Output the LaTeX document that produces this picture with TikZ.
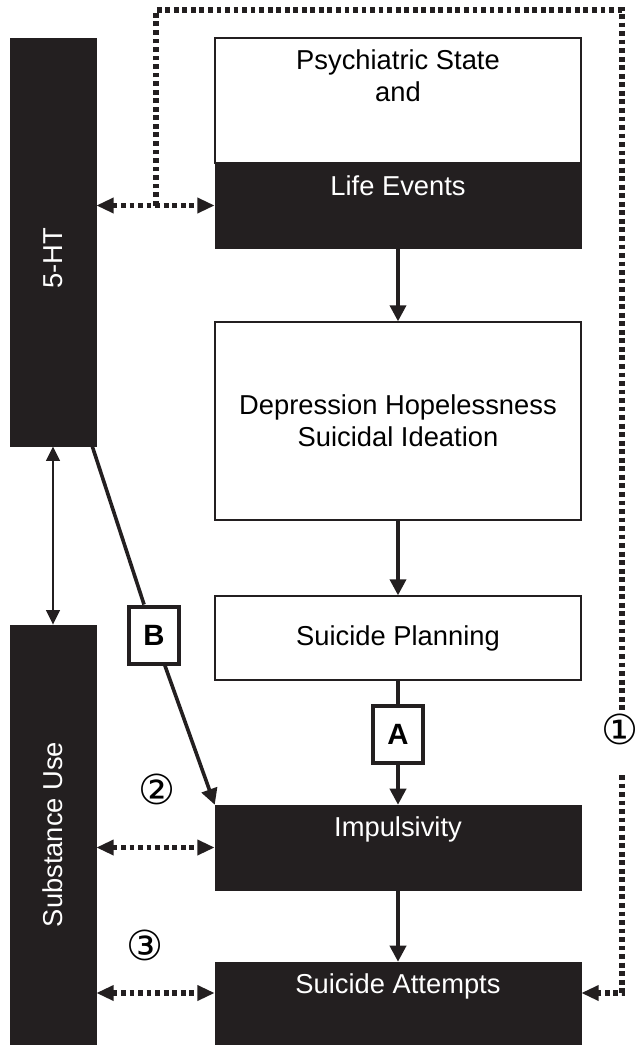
\documentclass[tikz,border=0pt]{standalone}
\usepackage{fontspec}
\setmainfont{Liberation Sans}
\newfontfamily\circfont{DejaVu Sans}
\usetikzlibrary{arrows.meta}
\definecolor{ink}{RGB}{35,31,32}
\newcommand{\boxfont}{\fontsize{20.5}{24}\selectfont}
\begin{document}
\begin{tikzpicture}[x=0.75pt,y=-0.75pt,
		whitebox/.style={draw=ink,line width=1pt,fill=white,minimum width=274.5pt,align=center,font=\boxfont},
		darkbox/.style={draw=ink,fill=ink,text=white,minimum width=274.5pt,align=center,font=\boxfont},
		boxtext/.style={anchor=center,align=center,font=\boxfont},
		darktext/.style={boxtext,text=white},
		letterbox/.style={draw=ink,line width=3pt,fill=white,minimum width=37.5pt,minimum height=42.75pt,font=\bfseries\fontsize{22}{22}\selectfont},
		numtext/.style={inner sep=0pt,font=\circfont\fontsize{31}{31}\selectfont},
		solidline/.style={draw=ink,line width=2.7pt},
		solidarrow/.style={solidline,-{Triangle[length=12pt,width=12pt]}},
		thinarrow/.style={draw=ink,line width=2.2pt,{Triangle[length=11pt,width=10pt]}-{Triangle[length=11pt,width=10pt]}},
		dotline/.style={draw=ink,line width=4pt,dash pattern=on 3.6pt off 2.8pt},
		dotarrow/.style={dotline,{Triangle[length=13pt,width=11pt]}-{Triangle[length=13pt,width=11pt]}},
		dotsingle/.style={dotline,-{Triangle[length=13pt,width=11pt]}}]
	\useasboundingbox (0,0) rectangle (637,1049);
	\node[darkbox,minimum width=64.5pt,minimum height=306pt] (ht) at (53,242) {\rotatebox{90}{5-HT\hspace{24pt}}};
	\node[darkbox,minimum width=64.5pt,minimum height=314.25pt] (sub) at (53,834.5) {\rotatebox{90}{Substance Use}};
	\node[whitebox,minimum height=93.75pt,label={[boxtext,yshift=-28.9pt]north:Psychiatric State\\and}] (psych) at (398,100.5) {};
	\node[darkbox,minimum height=63.75pt,label={[darktext,yshift=-17.25pt]north:Life Events}] (life) at (398,205.5) {};
	\node[whitebox,minimum height=148.5pt] (dep) at (398,421) {Depression Hopelessness\\Suicidal Ideation};
	\node[whitebox,minimum height=63pt] (plan) at (398,638) {Suicide Planning};
	\node[darkbox,minimum height=63.75pt,label={[darktext,yshift=-18.75pt]north:Impulsivity}] (imp) at (398,847.5) {};
	\node[darkbox,minimum height=61.5pt,label={[darktext,yshift=-18.75pt]north:Suicide Attempts}] (att) at (398,1003) {};
	\node[letterbox] (a) at (398,734) {A};
	\node[letterbox] (b) at (154,635) {B};
	\node[numtext] (one) at (620,729) {①};
	\node[numtext] (two) at (157,789) {②};
	\node[numtext] (three) at (145,945) {③};
	\coordinate (fork) at (156,205.5);
	\coordinate (loop) at (622,10);
	\draw[solidarrow] (life) -- (dep);
	\draw[solidarrow] (dep) -- (plan);
	\draw[solidline] (plan) -- (a);
	\draw[solidarrow] (a) -- (imp);
	\draw[solidarrow] (imp) -- (att);
	\draw[thinarrow] (ht) -- (sub);
	\draw[solidline] ([xshift=-3pt]ht.south east) -- (b);
	\draw[solidarrow] (b) -- (imp.north west);
	\draw[dotarrow] (life.west -| ht.east) -- (life.west);
	\draw[dotline] (fork) |- (loop) -- (loop |- one.north);
	\draw[dotsingle] ([yshift=-34.5pt]loop |- one.center) |- ([yshift=7.5pt]att.east);
	\draw[dotarrow] (imp.west -| sub.east) -- (imp.west);
	\draw[dotarrow] ([yshift=7.5pt]att.west -| sub.east) -- ([yshift=7.5pt]att.west);
\end{tikzpicture}
\end{document}
